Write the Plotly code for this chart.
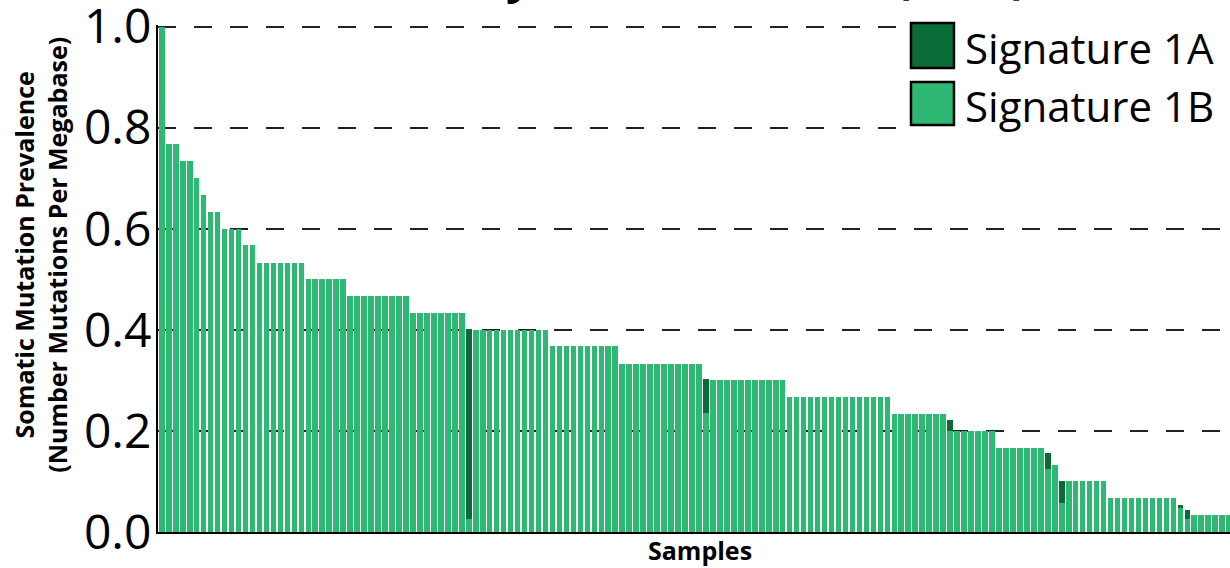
import plotly.graph_objects as go

# Per-sample somatic mutation prevalence (mutations per megabase), split by signature
samples = [f"AML-{i:03d}" for i in range(1, 155)]

sig_1b = [
    1.000,
    0.767, 0.767,
    0.733, 0.733,
    0.700,
    0.667,
    0.633, 0.633,
    0.600, 0.600, 0.600,
    0.567, 0.567,
    0.533, 0.533, 0.533, 0.533, 0.533, 0.533, 0.533,
    0.500, 0.500, 0.500, 0.500, 0.500, 0.500,
    0.467, 0.467, 0.467, 0.467, 0.467, 0.467, 0.467, 0.467, 0.467,
    0.433, 0.433, 0.433, 0.433, 0.433, 0.433, 0.433, 0.433,
    0.026,
    0.400, 0.400, 0.400, 0.400, 0.400, 0.400, 0.400, 0.400, 0.400, 0.400, 0.400,
    0.367, 0.367, 0.367, 0.367, 0.367, 0.367, 0.367, 0.367, 0.367, 0.367,
    0.333, 0.333, 0.333, 0.333, 0.333, 0.333, 0.333, 0.333, 0.333, 0.333, 0.333, 0.333,
    0.235,
    0.300, 0.300, 0.300, 0.300, 0.300, 0.300, 0.300, 0.300, 0.300, 0.300, 0.300,
    0.267, 0.267, 0.267, 0.267, 0.267, 0.267, 0.267, 0.267, 0.267, 0.267,
    0.267, 0.267, 0.267, 0.267, 0.267,
    0.233, 0.233, 0.233, 0.233, 0.233, 0.233, 0.233, 0.233,
    0.200,
    0.200, 0.200, 0.200, 0.200, 0.200, 0.200,
    0.167, 0.167, 0.167, 0.167, 0.167, 0.167, 0.167,
    0.124,
    0.133,
    0.058,
    0.100, 0.100, 0.100, 0.100, 0.100, 0.100,
    0.067, 0.067, 0.067, 0.067, 0.067, 0.067, 0.067, 0.067, 0.067, 0.067,
    0.048,
    0.025,
    0.033, 0.033, 0.033, 0.033, 0.033, 0.033,
]

sig_1a = [
    0.000,
    0.000, 0.000,
    0.000, 0.000,
    0.000,
    0.000,
    0.000, 0.000,
    0.000, 0.000, 0.000,
    0.000, 0.000,
    0.000, 0.000, 0.000, 0.000, 0.000, 0.000, 0.000,
    0.000, 0.000, 0.000, 0.000, 0.000, 0.000,
    0.000, 0.000, 0.000, 0.000, 0.000, 0.000, 0.000, 0.000, 0.000,
    0.000, 0.000, 0.000, 0.000, 0.000, 0.000, 0.000, 0.000,
    0.376,
    0.000, 0.000, 0.000, 0.000, 0.000, 0.000, 0.000, 0.000, 0.000, 0.000, 0.000,
    0.000, 0.000, 0.000, 0.000, 0.000, 0.000, 0.000, 0.000, 0.000, 0.000,
    0.000, 0.000, 0.000, 0.000, 0.000, 0.000, 0.000, 0.000, 0.000, 0.000, 0.000, 0.000,
    0.067,
    0.000, 0.000, 0.000, 0.000, 0.000, 0.000, 0.000, 0.000, 0.000, 0.000, 0.000,
    0.000, 0.000, 0.000, 0.000, 0.000, 0.000, 0.000, 0.000, 0.000, 0.000,
    0.000, 0.000, 0.000, 0.000, 0.000,
    0.000, 0.000, 0.000, 0.000, 0.000, 0.000, 0.000, 0.000,
    0.022,
    0.000, 0.000, 0.000, 0.000, 0.000, 0.000,
    0.000, 0.000, 0.000, 0.000, 0.000, 0.000, 0.000,
    0.033,
    0.000,
    0.042,
    0.000, 0.000, 0.000, 0.000, 0.000, 0.000,
    0.000, 0.000, 0.000, 0.000, 0.000, 0.000, 0.000, 0.000, 0.000, 0.000,
    0.006,
    0.018,
    0.000, 0.000, 0.000, 0.000, 0.000, 0.000,
]

y_ticks = [0.0, 0.2, 0.4, 0.6, 0.8, 1.0]
y_tick_text = ["0.0", "0.2", "0.4", "0.6", "0.8", "1.0"]

title_text = "Acute Myeloid Leukemia (AML)"
series_names = ["Signature 1A", "Signature 1B"]
color_1a = "#0B6B38"
color_1b = "#2EB873"

FONT = "Open Sans"

fig = go.Figure()
fig.add_trace(go.Bar(x=samples, y=sig_1b, name=series_names[1],
                     marker=dict(color=color_1b, line=dict(width=0))))
fig.add_trace(go.Bar(x=samples, y=sig_1a, name=series_names[0],
                     marker=dict(color=color_1a, line=dict(width=0))))

fig.update_layout(
    width=1230, height=568,
    margin=dict(l=158, r=0, t=25, b=36, autoexpand=False),
    barmode="stack",
    bargap=0.2,
    showlegend=False,
    plot_bgcolor="white",
    paper_bgcolor="white",
    font=dict(family=FONT, color="black"),
)

fig.update_xaxes(
    type="category",
    range=[-0.545, 153.12],
    showticklabels=False,
    showgrid=False,
    zeroline=False,
    showline=True, linecolor="black", linewidth=2,
    ticks="",
    automargin=False,
)
fig.update_yaxes(
    range=[0, 1.003],
    tickvals=y_ticks, ticktext=y_tick_text,
    tickfont=dict(family=FONT, size=48, color="black"),
    ticklabeloverflow="allow",
    automargin=False,
    showgrid=True, gridcolor="#222222", gridwidth=2, griddash="18px,18px",
    zeroline=False,
    showline=True, linecolor="black", linewidth=2,
    ticks="", ticklabelstandoff=-5,
)

annotations = [
    # chart title, mostly above the canvas top
    dict(text=f"<b>{title_text}</b>", xref="paper", yref="paper",
         x=0.48, y=1.033, xanchor="center", yanchor="bottom", showarrow=False,
         font=dict(family=FONT, size=46, color="black")),
    # y-axis title (two lines, rotated)
    dict(text="<b>Somatic Mutation Prevalence<br>(Number Mutations Per Megabase)</b>",
         xref="paper", yref="paper", x=-0.1095, y=0.546, textangle=-90,
         xanchor="center", yanchor="middle", showarrow=False,
         font=dict(family=FONT, size=25, color="black")),
    # x-axis title
    dict(text="<b>Samples</b>", xref="paper", yref="paper",
         x=0.5056, y=-0.0355, xanchor="center", yanchor="middle", showarrow=False,
         font=dict(family=FONT, size=25, color="black")),
]

# Legend drawn as boxes + labels
legend_rows = [(series_names[0], color_1a, 0.9152, 1.004),
               (series_names[1], color_1b, 0.8028, 0.8876)]
shapes = [dict(type="rect", xref="paper", yref="paper",
               x0=0.691, x1=1.0, y0=0.79, y1=1.02,
               fillcolor="white", line=dict(width=0), layer="above")]
for name, col, y0, y1 in legend_rows:
    shapes.append(dict(type="rect", xref="paper", yref="paper",
                       x0=0.7024, x1=0.7425, y0=y0, y1=y1,
                       fillcolor=col, line=dict(color="black", width=2.5),
                       layer="above"))
    annotations.append(dict(text=name, xref="paper", yref="paper",
                            x=0.7505, y=(y0 + y1) / 2 - 0.004,
                            xanchor="left", yanchor="middle", showarrow=False,
                            font=dict(family=FONT, size=42, color="black")))

fig.update_layout(annotations=annotations, shapes=shapes)

fig.write_html("out.html")
